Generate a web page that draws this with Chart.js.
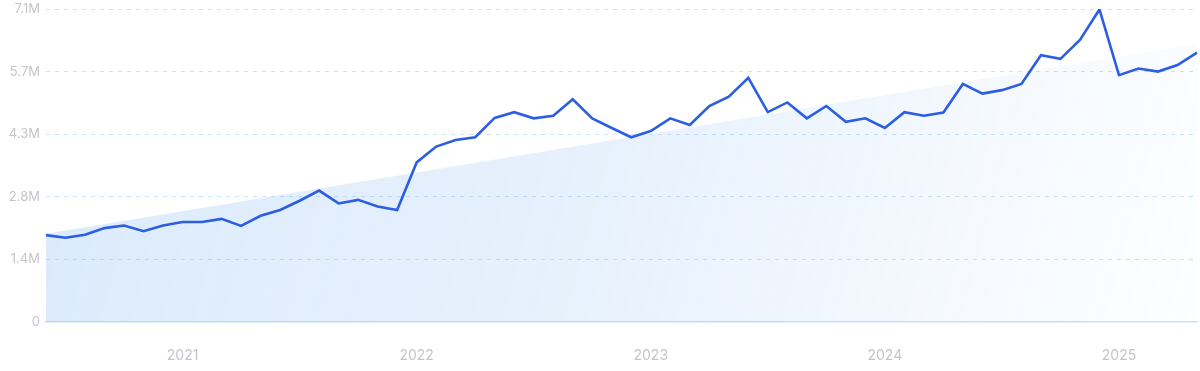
<!DOCTYPE html>
<html>
<head>
<meta charset="utf-8">
<script src="https://cdn.jsdelivr.net/npm/chart.js@4.4.1/dist/chart.umd.min.js"></script>
<style>
  html, body { margin: 0; padding: 0; background: #ffffff; }
  #wrap { width: 1200px; height: 371px; position: relative; }
</style>
</head>
<body>
<div id="wrap"><canvas id="c" width="1200" height="371"></canvas></div>
<script>
// Months: Jun 2020 .. May 2025
const months = [
  "2020-06","2020-07","2020-08","2020-09","2020-10","2020-11","2020-12",
  "2021-01","2021-02","2021-03","2021-04","2021-05","2021-06","2021-07","2021-08","2021-09","2021-10","2021-11","2021-12",
  "2022-01","2022-02","2022-03","2022-04","2022-05","2022-06","2022-07","2022-08","2022-09","2022-10","2022-11","2022-12",
  "2023-01","2023-02","2023-03","2023-04","2023-05","2023-06","2023-07","2023-08","2023-09","2023-10","2023-11","2023-12",
  "2024-01","2024-02","2024-03","2024-04","2024-05","2024-06","2024-07","2024-08","2024-09","2024-10","2024-11","2024-12",
  "2025-01","2025-02","2025-03","2025-04","2025-05"
];
// Search volume (millions)
const volume = [
  1.97, 1.91, 1.98, 2.13, 2.19, 2.06, 2.19,
  2.27, 2.27, 2.34, 2.18, 2.41, 2.54, 2.75, 2.98, 2.69, 2.77, 2.62, 2.54,
  3.62, 3.98, 4.13, 4.19, 4.63, 4.76, 4.62, 4.68, 5.05, 4.62, 4.40, 4.19,
  4.33, 4.62, 4.47, 4.90, 5.11, 5.54, 4.76, 4.98, 4.62, 4.90, 4.54, 4.62,
  4.40, 4.76, 4.68, 4.75, 5.40, 5.18, 5.26, 5.40, 6.05, 5.97, 6.40, 7.09,
  5.60, 5.75, 5.68, 5.83, 6.11
];
// Trend line endpoints (millions)
const trendStart = 2.00;
const trendEnd = 6.32;
const yTickLabels = ["0", "1.4M", "2.8M", "4.3M", "5.7M", "7.1M"];
const yMax = 7.1;

const trendData = months.map((m, i) => i === 0 ? trendStart : (i === months.length - 1 ? trendEnd : null));

const ctx = document.getElementById('c').getContext('2d');
new Chart(ctx, {
  type: 'line',
  data: {
    labels: months,
    datasets: [
      {
        label: 'volume',
        data: volume,
        borderColor: '#2c5ee4',
        borderWidth: 2.6,
        pointRadius: 0,
        tension: 0,
        fill: false,
        order: 0,
        borderJoinStyle: 'miter'
      },
      {
        label: 'trend',
        data: trendData,
        spanGaps: true,
        borderWidth: 0,
        borderColor: 'rgba(0,0,0,0)',
        pointRadius: 0,
        tension: 0,
        fill: 'origin',
        order: 1,
        backgroundColor: (c) => {
          const ca = c.chart.chartArea;
          if (!ca) return 'rgba(90,165,240,0.2)';
          const g = c.chart.ctx.createLinearGradient(ca.left, ca.top, ca.right, ca.bottom);
          g.addColorStop(0, 'rgba(90,160,240,0.22)');
          g.addColorStop(0.5, 'rgba(90,160,240,0.14)');
          g.addColorStop(0.8, 'rgba(90,160,240,0.06)');
          g.addColorStop(1, 'rgba(90,160,240,0.01)');
          return g;
        }
      }
    ]
  },
  options: {
    responsive: false,
    animation: false,
    events: [],
    layout: { padding: { top: 9, right: 3, left: 0, bottom: 0 } },
    plugins: { legend: { display: false }, tooltip: { enabled: false } },
    scales: {
      x: {
        type: 'category',
        offset: false,
        grid: { display: false, drawTicks: false },
        border: { display: true, color: '#c8e3fb', width: 1.5 },
        ticks: {
          autoSkip: false,
          maxRotation: 0,
          padding: 25,
          color: '#c4c4cc',
          font: { family: 'Inter', size: 14 },
          callback: function(v, i) {
            const m = months[i];
            return m.endsWith('-01') ? m.slice(0, 4) : '';
          }
        },
        afterFit: (s) => { s.height = 49; s.paddingLeft = 0; s.paddingRight = 0; }
      },
      y: {
        min: 0,
        max: yMax,
        grid: {
          drawTicks: false,
          color: (c) => c.index === 0 ? 'rgba(0,0,0,0)' : '#cbe4fb',
          lineWidth: 1
        },
        border: { display: false, dash: [4, 5] },
        ticks: {
          stepSize: yMax / 5,
          padding: 6,
          color: '#c4c4cc',
          font: { family: 'Inter', size: 13 },
          callback: function(v, i) { return yTickLabels[i]; }
        },
        afterFit: (s) => { s.width = 46; s.paddingTop = 0; s.paddingBottom = 0; }
      }
    }
  }
});
</script>
</body>
</html>
